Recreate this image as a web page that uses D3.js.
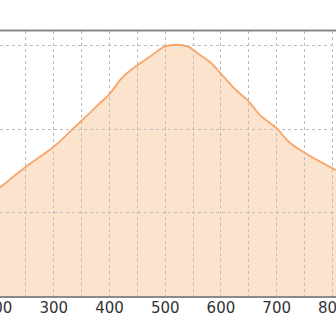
<!DOCTYPE html>
<html><head><meta charset="utf-8">
<script src="https://cdn.jsdelivr.net/npm/d3@7"></script>
<style>html,body{margin:0;padding:0;background:#fff;overflow:hidden}</style>
</head><body>
<svg id="c" width="336" height="336"></svg>
<script>
const xValues = [204.4,250.5,300.1,330.0,350.3,366.0,383.9,400.1,425.2,450.3,473.6,500,520.3,541.8,563.4,583.1,600.5,627.9,650,671.0,700.3,724.9,750.5,778.7,807.4];
const yValues = [12.96,15.41,17.80,19.63,20.91,21.90,23.06,24.07,26.20,27.54,28.61,29.79,30.02,29.79,28.79,27.84,26.61,24.61,23.30,21.62,20.07,18.28,17.14,16.05,15.05];
const xTicks = [200,300,400,500,600,700,800];
const xGrid = [250,300,350,400,450,500,550,600,650,700,750,800];
const yGrid = [10,20,30];

const svg = d3.select("#c");
const x = d3.scaleLinear().domain([204.4, 807.4]).range([0, 336]);
const y = d3.scaleLinear().domain([0, 31.66]).range([296, 31]);
const data = xValues.map((v,i)=>({x:v,y:yValues[i]}));
const curve = d3.curveCatmullRom.alpha(0.5);

svg.append("defs").append("clipPath").attr("id","clip")
  .append("rect").attr("x",0).attr("y",31).attr("width",336).attr("height",265);

const g = svg.append("g").attr("clip-path","url(#clip)");
g.append("path").datum(data)
  .attr("d", d3.area().x(d=>x(d.x)).y0(y(0)).y1(d=>y(d.y)).curve(curve))
  .attr("fill","#fce3cd");

g.selectAll(".vg").data(xGrid).enter().append("line")
  .attr("x1",d=>Math.round(x(d))+0.5).attr("x2",d=>Math.round(x(d))+0.5)
  .attr("y1",31).attr("y2",296)
  .attr("stroke","#bcbcbc").attr("stroke-width",1).attr("stroke-dasharray","3,3");
g.selectAll(".hg").data(yGrid).enter().append("line")
  .attr("x1",0).attr("x2",336)
  .attr("y1",d=>Math.round(y(d))+0.5).attr("y2",d=>Math.round(y(d))+0.5)
  .attr("stroke","#bcbcbc").attr("stroke-width",1).attr("stroke-dasharray","3,3");

g.append("path").datum(data)
  .attr("d", d3.line().x(d=>x(d.x)).y(d=>y(d.y)).curve(curve))
  .attr("fill","none").attr("stroke","#f6a66a").attr("stroke-width",1.8);

svg.append("line").attr("x1",0).attr("x2",336).attr("y1",30.5).attr("y2",30.5)
  .attr("stroke","#8a8a8a").attr("stroke-width",2);

const xAxis = d3.axisBottom(x).tickValues(xTicks).tickSize(0).tickPadding(6).tickFormat(d3.format("d"));
const ax = svg.append("g").attr("transform","translate(0,296)").call(xAxis);
ax.select(".domain").attr("stroke","#8a8a8a").attr("stroke-width",2).attr("d","M0,1H336");
ax.selectAll("text").attr("font-family","DejaVu Sans, Verdana, sans-serif").attr("font-size",15).attr("fill","#333");
</script>
</body></html>
